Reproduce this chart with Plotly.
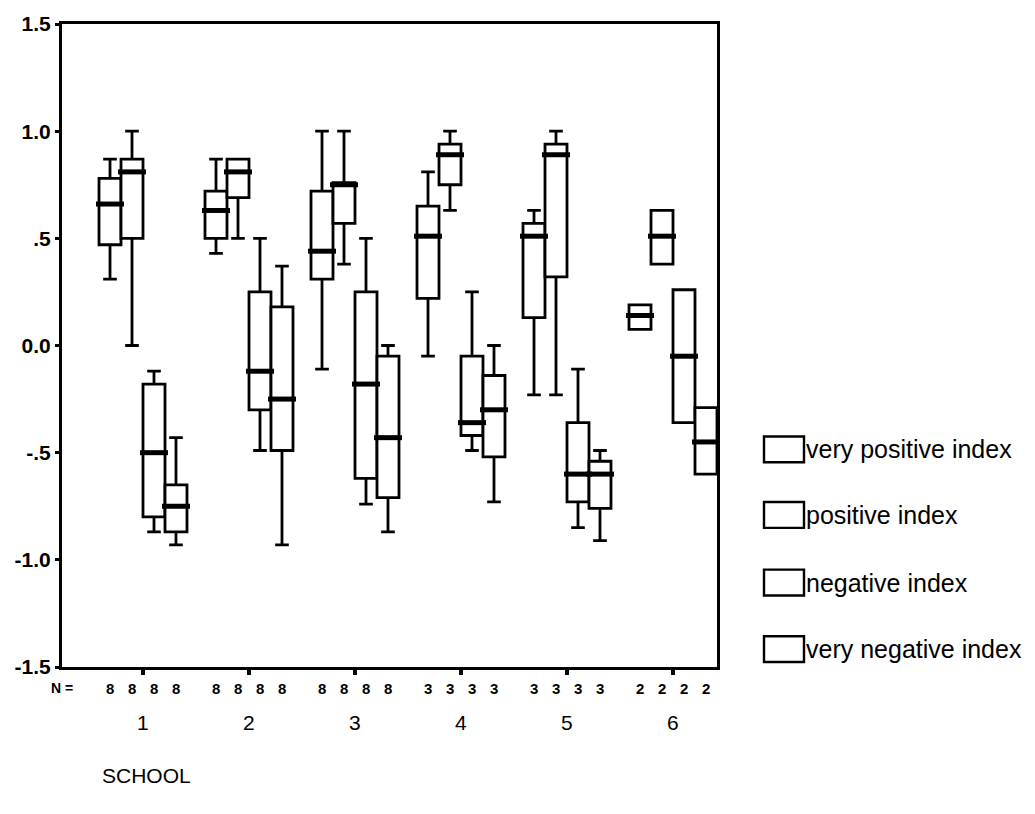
import plotly.graph_objects as go

schools = [1, 2, 3, 4, 5, 6]
school_labels = ["1", "2", "3", "4", "5", "6"]
n_counts = [8, 8, 8, 3, 3, 2]
series_names = ["very positive index", "positive index", "negative index", "very negative index"]

# very positive index
vp_low = [0.31, 0.43, -0.11, -0.05, -0.23, 0.075]
vp_q1 = [0.47, 0.50, 0.31, 0.22, 0.13, 0.075]
vp_med = [0.66, 0.63, 0.44, 0.51, 0.51, 0.14]
vp_q3 = [0.78, 0.72, 0.72, 0.65, 0.57, 0.19]
vp_high = [0.87, 0.87, 1.00, 0.81, 0.63, 0.19]

# positive index
p_low = [0.00, 0.50, 0.38, 0.63, -0.23, 0.38]
p_q1 = [0.50, 0.69, 0.57, 0.75, 0.32, 0.38]
p_med = [0.81, 0.81, 0.75, 0.89, 0.89, 0.51]
p_q3 = [0.87, 0.87, 0.76, 0.94, 0.94, 0.63]
p_high = [1.00, 0.87, 1.00, 1.00, 1.00, 0.63]

# negative index
n_low = [-0.87, -0.49, -0.74, -0.49, -0.85, -0.36]
n_q1 = [-0.80, -0.30, -0.62, -0.42, -0.73, -0.36]
n_med = [-0.50, -0.12, -0.18, -0.36, -0.60, -0.05]
n_q3 = [-0.18, 0.25, 0.25, -0.05, -0.36, 0.26]
n_high = [-0.12, 0.50, 0.50, 0.25, -0.11, 0.26]

# very negative index
vn_low = [-0.93, -0.93, -0.87, -0.73, -0.91, -0.60]
vn_q1 = [-0.87, -0.49, -0.71, -0.52, -0.76, -0.60]
vn_med = [-0.75, -0.25, -0.43, -0.30, -0.60, -0.45]
vn_q3 = [-0.65, 0.18, -0.05, -0.14, -0.54, -0.29]
vn_high = [-0.43, 0.37, 0.00, 0.00, -0.49, -0.29]

y_ticks = [1.5, 1.0, 0.5, 0.0, -0.5, -1.0, -1.5]
y_tick_labels = ["1.5", "1.0", ".5", "0.0", "-.5", "-1.0", "-1.5"]

stats = [
    (vp_low, vp_q1, vp_med, vp_q3, vp_high),
    (p_low, p_q1, p_med, p_q3, p_high),
    (n_low, n_q1, n_med, n_q3, n_high),
    (vn_low, vn_q1, vn_med, vn_q3, vn_high),
]

BOXGAP = 0.17
nser = len(series_names)
bw = (1 - BOXGAP) / nser
offsets = [-(1 - BOXGAP) / 2 + (j + 0.5) * bw for j in range(nser)]

FONT = "Liberation Sans, Arial, sans-serif"
fig = go.Figure()

for j, (name, (lo, q1, med, q3, hi)) in enumerate(zip(series_names, stats)):
    fig.add_trace(go.Box(
        x=schools, lowerfence=lo, q1=q1, median=med, q3=q3, upperfence=hi,
        name=name, fillcolor="white", line=dict(color="black", width=2.8),
        whiskerwidth=0.62, boxpoints=False, showlegend=False, hoverinfo="skip",
    ))

# thicker median bars
for j, (lo, q1, med, q3, hi) in enumerate(stats):
    fig.add_trace(go.Scatter(
        x=[s + offsets[j] for s in schools], y=med, mode="markers",
        marker=dict(symbol="line-ew", size=20, line=dict(color="black", width=5)),
        showlegend=False, hoverinfo="skip",
    ))

annotations = []
# N = row
annotations.append(dict(x=0, xref="paper", y=0, yref="paper", text="<b>N =</b>",
                        showarrow=False, xanchor="center", yanchor="middle", yshift=-21,
                        font=dict(family=FONT, size=14, color="black")))
for i, s in enumerate(schools):
    for j in range(nser):
        annotations.append(dict(x=s + offsets[j], xref="x", y=0, yref="paper",
                                text="<b>%d</b>" % n_counts[i], showarrow=False,
                                xanchor="center", yanchor="middle", yshift=-21,
                                font=dict(family=FONT, size=15, color="black")))
    annotations.append(dict(x=s, xref="x", y=0, yref="paper", text=school_labels[i],
                            showarrow=False, xanchor="center", yanchor="middle", yshift=-55,
                            font=dict(family=FONT, size=21, color="black")))

annotations.append(dict(x=(100 - 62) / 655, xref="paper", y=0, yref="paper", text="SCHOOL",
                        showarrow=False, xanchor="left", yanchor="middle", yshift=-108,
                        font=dict(family=FONT, size=21, color="black")))

# custom legend
shapes = []
leg_y = [448, 514, 582, 649]
for j, name in enumerate(series_names):
    yc = (667 - leg_y[j]) / 647
    h = 13 / 647
    shapes.append(dict(type="rect", xref="paper", yref="paper",
                       x0=(764 - 62) / 655, x1=(804 - 62) / 655, y0=yc - h, y1=yc + h,
                       line=dict(color="black", width=2.4), fillcolor="white"))
    annotations.append(dict(x=(804 - 62) / 655, xref="paper", y=yc, yref="paper",
                            text=name, showarrow=False, xanchor="left", yanchor="middle",
                            font=dict(family=FONT, size=25, color="black")))

fig.update_layout(
    width=1035, height=814,
    margin=dict(l=62, r=318, t=20, b=147),
    paper_bgcolor="white", plot_bgcolor="white",
    boxmode="group", boxgap=BOXGAP, boxgroupgap=0,
    showlegend=False,
    annotations=annotations, shapes=shapes,
    xaxis=dict(range=[1 - 81 / 106, 6 + 44 / 106], tickvals=schools, showticklabels=False,
               ticks="outside", ticklen=5, tickwidth=4, tickcolor="black",
               showline=True, linecolor="black", linewidth=2.5, mirror=True,
               showgrid=False, zeroline=False),
    yaxis=dict(range=[-1.5, 1.5], tickvals=y_ticks, ticktext=["<b>%s</b>" % t for t in y_tick_labels],
               ticks="outside", ticklen=4, tickwidth=3, tickcolor="black",
               tickfont=dict(family=FONT, size=21, color="black"),
               showline=True, linecolor="black", linewidth=3, mirror=True,
               showgrid=False, zeroline=False),
)

fig.write_html("out.html", config={"displayModeBar": False},
               post_script="document.body.style.margin='0px';")
